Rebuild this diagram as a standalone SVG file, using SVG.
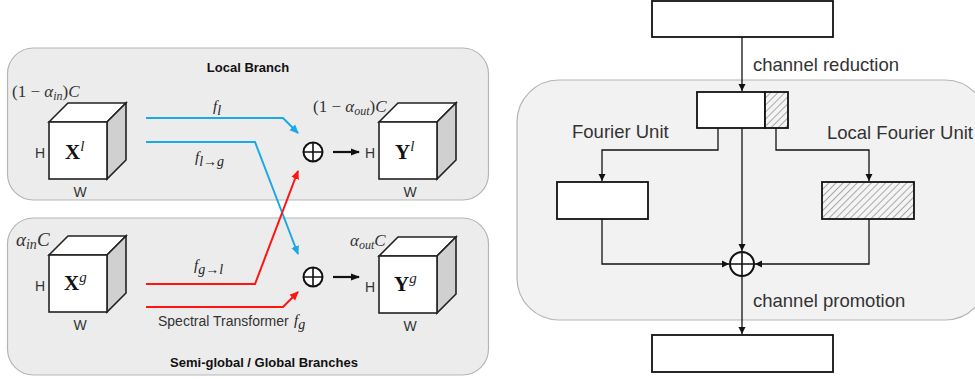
<svg xmlns="http://www.w3.org/2000/svg" width="975" height="379" viewBox="0 0 975 379">
<style>
.panelL{fill:#ececec;stroke:#b5b5b5;stroke-width:1.2}
.panelR{fill:#f2f2f2;stroke:#b5b5b5;stroke-width:1.2}
.front{fill:#fff;stroke:#222;stroke-width:1.6}
.side{fill:#d0d0d0;stroke:#222;stroke-width:1.6}
.top{fill:#fff;stroke:#222;stroke-width:1.6}
.dim{font-family:"Liberation Sans",Arial,sans-serif;font-size:14px;fill:#333}
.math{font-family:"Liberation Serif","Times New Roman",serif;font-size:15px;fill:#222;font-style:italic}
.mathn{font-family:"Liberation Serif","Times New Roman",serif;font-size:17px;fill:#333}
.big{font-family:"Liberation Serif","Times New Roman",serif;font-size:21px;font-weight:bold;fill:#111}
.title{font-family:"Liberation Sans",Arial,sans-serif;font-size:13px;font-weight:bold;fill:#111}
.lab{font-family:"Liberation Sans",Arial,sans-serif;font-size:18.5px;fill:#333}
.small{font-family:"Liberation Sans",Arial,sans-serif;font-size:14px;fill:#333}
.blue{fill:none;stroke:#1aa9e6;stroke-width:2}
.red{fill:none;stroke:#ff1414;stroke-width:2}
.blk{fill:none;stroke:#111;stroke-width:1.3}
.box{fill:#fff;stroke:#111;stroke-width:1.8}
.hbox{fill:url(#hatch);stroke:#111;stroke-width:1.8}
.plus{fill:#fff;stroke:#111;stroke-width:2}
</style>
<defs>
<pattern id="hatch" patternUnits="userSpaceOnUse" width="5" height="5" patternTransform="rotate(45)">
<rect width="5" height="5" fill="#f4f4f4"/>
<line x1="0" y1="0" x2="0" y2="5" stroke="#a8a8a8" stroke-width="2"/>
</pattern>
<marker id="ab" markerWidth="10" markerHeight="10" refX="8" refY="5" orient="auto" markerUnits="userSpaceOnUse">
<path d="M0,1 L9,5 L0,9 z" fill="#1aa9e6"/>
</marker>
<marker id="ar" markerWidth="10" markerHeight="10" refX="8" refY="5" orient="auto" markerUnits="userSpaceOnUse">
<path d="M0,1 L9,5 L0,9 z" fill="#ff1414"/>
</marker>
<marker id="ak" markerWidth="10" markerHeight="10" refX="8" refY="5" orient="auto" markerUnits="userSpaceOnUse">
<path d="M0,1.5 L9,5 L0,8.5 z" fill="#111"/>
</marker>
<marker id="as" markerWidth="8" markerHeight="8" refX="7" refY="4" orient="auto" markerUnits="userSpaceOnUse">
<path d="M0,0.5 L7,4 L0,7.5 z" fill="#111"/>
</marker>
</defs>

<!-- Left panels -->
<rect id="local-panel" class="panelL" x="7.5" y="48" width="481" height="152" rx="26"/>
<rect id="global-panel" class="panelL" x="7.5" y="218" width="481" height="157" rx="26"/>
<text class="title" x="248" y="72" text-anchor="middle">Local Branch</text>
<text class="title" x="264" y="367" text-anchor="middle" font-size="14">Semi-global / Global Branches</text>

<!-- Cube Xl -->
<g id="cube-Xl">
<polygon class="top" points="49,122 68,103 126,103 107,122"/>
<polygon class="side" points="107,122 126,103 126,160 107,179"/>
<rect class="front" x="49" y="122" width="58" height="57"/>
<text class="big" x="65" y="159">X<tspan class="math" font-weight="normal" font-size="16" dy="-8">l</tspan></text>
<text class="dim" x="40" y="158" text-anchor="middle">H</text>
<text class="dim" x="80" y="197" text-anchor="middle">W</text>
<text class="mathn" x="12" y="97">(1 − <tspan font-style="italic">α</tspan><tspan font-style="italic" font-size="12" dy="3">in</tspan><tspan dy="-3">)</tspan><tspan font-style="italic">C</tspan></text>
</g>

<!-- Cube Xg -->
<g id="cube-Xg">
<polygon class="top" points="49,255 68,236 126,236 107,255"/>
<polygon class="side" points="107,255 126,236 126,293 107,312"/>
<rect class="front" x="49" y="255" width="58" height="57"/>
<text class="big" x="64" y="290">X<tspan class="math" font-weight="normal" font-size="16" dy="-8">g</tspan></text>
<text class="dim" x="40" y="291" text-anchor="middle">H</text>
<text class="dim" x="80" y="330" text-anchor="middle">W</text>
<text class="mathn" x="16" y="246"><tspan font-style="italic" font-size="19">α</tspan><tspan font-style="italic" font-size="14" dy="3">in</tspan><tspan font-style="italic" font-size="19" dy="-3">C</tspan></text>
</g>

<!-- Cube Yl -->
<g id="cube-Yl">
<polygon class="top" points="379,122 398,103 456,103 437,122"/>
<polygon class="side" points="437,122 456,103 456,160 437,179"/>
<rect class="front" x="379" y="122" width="58" height="57"/>
<text class="big" x="395" y="159">Y<tspan class="math" font-weight="normal" font-size="16" dy="-8">l</tspan></text>
<text class="dim" x="370" y="158" text-anchor="middle">H</text>
<text class="dim" x="410" y="197" text-anchor="middle">W</text>
<text class="mathn" x="313" y="112">(1 − <tspan font-style="italic">α</tspan><tspan font-style="italic" font-size="12" dy="3">out</tspan><tspan dy="-3">)</tspan><tspan font-style="italic">C</tspan></text>
</g>

<!-- Cube Yg -->
<g id="cube-Yg">
<polygon class="top" points="379,256 398,237 456,237 437,256"/>
<polygon class="side" points="437,256 456,237 456,294 437,313"/>
<rect class="front" x="379" y="256" width="58" height="57"/>
<text class="big" x="394" y="291">Y<tspan class="math" font-weight="normal" font-size="16" dy="-8">g</tspan></text>
<text class="dim" x="370" y="292" text-anchor="middle">H</text>
<text class="dim" x="410" y="331" text-anchor="middle">W</text>
<text class="mathn" x="350" y="246"><tspan font-style="italic">α</tspan><tspan font-style="italic" font-size="12" dy="3">out</tspan><tspan font-style="italic" dy="-3">C</tspan></text>
</g>

<!-- Sum nodes left -->
<g id="sum-l">
<circle class="plus" cx="313" cy="152" r="9.5"/>
<path d="M303.5,152 H322.5 M313,142.5 V161.5" stroke="#111" stroke-width="1.6"/>
</g>
<g id="sum-g">
<circle class="plus" cx="313" cy="277" r="9.5"/>
<path d="M303.5,277 H322.5 M313,267.5 V286.5" stroke="#111" stroke-width="1.6"/>
</g>

<!-- Left connectors -->
<g id="connectors-left">
<polyline class="blue" points="146,118 283,118 298,133" marker-end="url(#ab)"/>
<polyline class="blue" points="146,142 255,142 298,254" marker-end="url(#ab)"/>
<polyline class="red" points="146,284 255,284 298,171" marker-end="url(#ar)"/>
<polyline class="red" points="146,307 283,307 298,292" marker-end="url(#ar)"/>
<line x1="333" y1="152" x2="359" y2="152" stroke="#111" stroke-width="2.2" marker-end="url(#ak)"/>
<line x1="333" y1="277" x2="359" y2="277" stroke="#111" stroke-width="2.2" marker-end="url(#ak)"/>
</g>
<text class="math" x="213" y="111" font-size="21">f<tspan font-size="14" dy="4">l</tspan></text>
<text class="math" x="195" y="162" font-size="21">f<tspan font-size="14" dy="4">l→g</tspan></text>
<text class="math" x="194" y="270" font-size="21">f<tspan font-size="14" dy="4">g→l</tspan></text>
<text class="small" x="158" y="326">Spectral Transformer</text>
<text class="math" x="294" y="325" font-size="21">f<tspan font-size="14" dy="4">g</tspan></text>

<!-- Right panel -->
<rect id="ffc-panel" class="panelR" x="517" y="80" width="470" height="240" rx="42"/>

<g id="in-box"><rect class="box" x="652" y="1" width="181" height="36"/></g>
<g id="split-box">
<rect class="box" x="697" y="92" width="68" height="36"/>
<rect class="hbox" x="765" y="92" width="23" height="36"/>
</g>
<g id="fu-box"><rect class="box" x="557" y="182" width="91" height="37"/></g>
<g id="lfu-box"><rect class="hbox" x="822" y="182" width="92" height="37"/></g>
<g id="out-box"><rect class="box" x="652" y="335" width="181" height="37"/></g>
<g id="sum-r">
<circle class="plus" cx="742" cy="264" r="12"/>
<path d="M730,264 H754 M742,252 V276" stroke="#111" stroke-width="1.6"/>
</g>

<g id="connectors-right">
<line class="blk" x1="742" y1="37" x2="742" y2="91" marker-end="url(#as)"/>
<polyline class="blk" points="718,128 718,150 602,150 602,181" marker-end="url(#as)"/>
<polyline class="blk" points="776,128 776,150 869,150 869,181" marker-end="url(#as)"/>
<line class="blk" x1="742" y1="128" x2="742" y2="251" marker-end="url(#as)"/>
<polyline class="blk" points="602,219 602,264 729,264" marker-end="url(#as)"/>
<polyline class="blk" points="869,219 869,264 755,264" marker-end="url(#as)"/>
<line class="blk" x1="742" y1="276" x2="742" y2="334" marker-end="url(#as)"/>
</g>
<text class="lab" x="753" y="71">channel reduction</text>
<text class="lab" x="572" y="138">Fourier Unit</text>
<text class="lab" x="827" y="139">Local Fourier Unit</text>
<text class="lab" x="753" y="307">channel promotion</text>
</svg>
